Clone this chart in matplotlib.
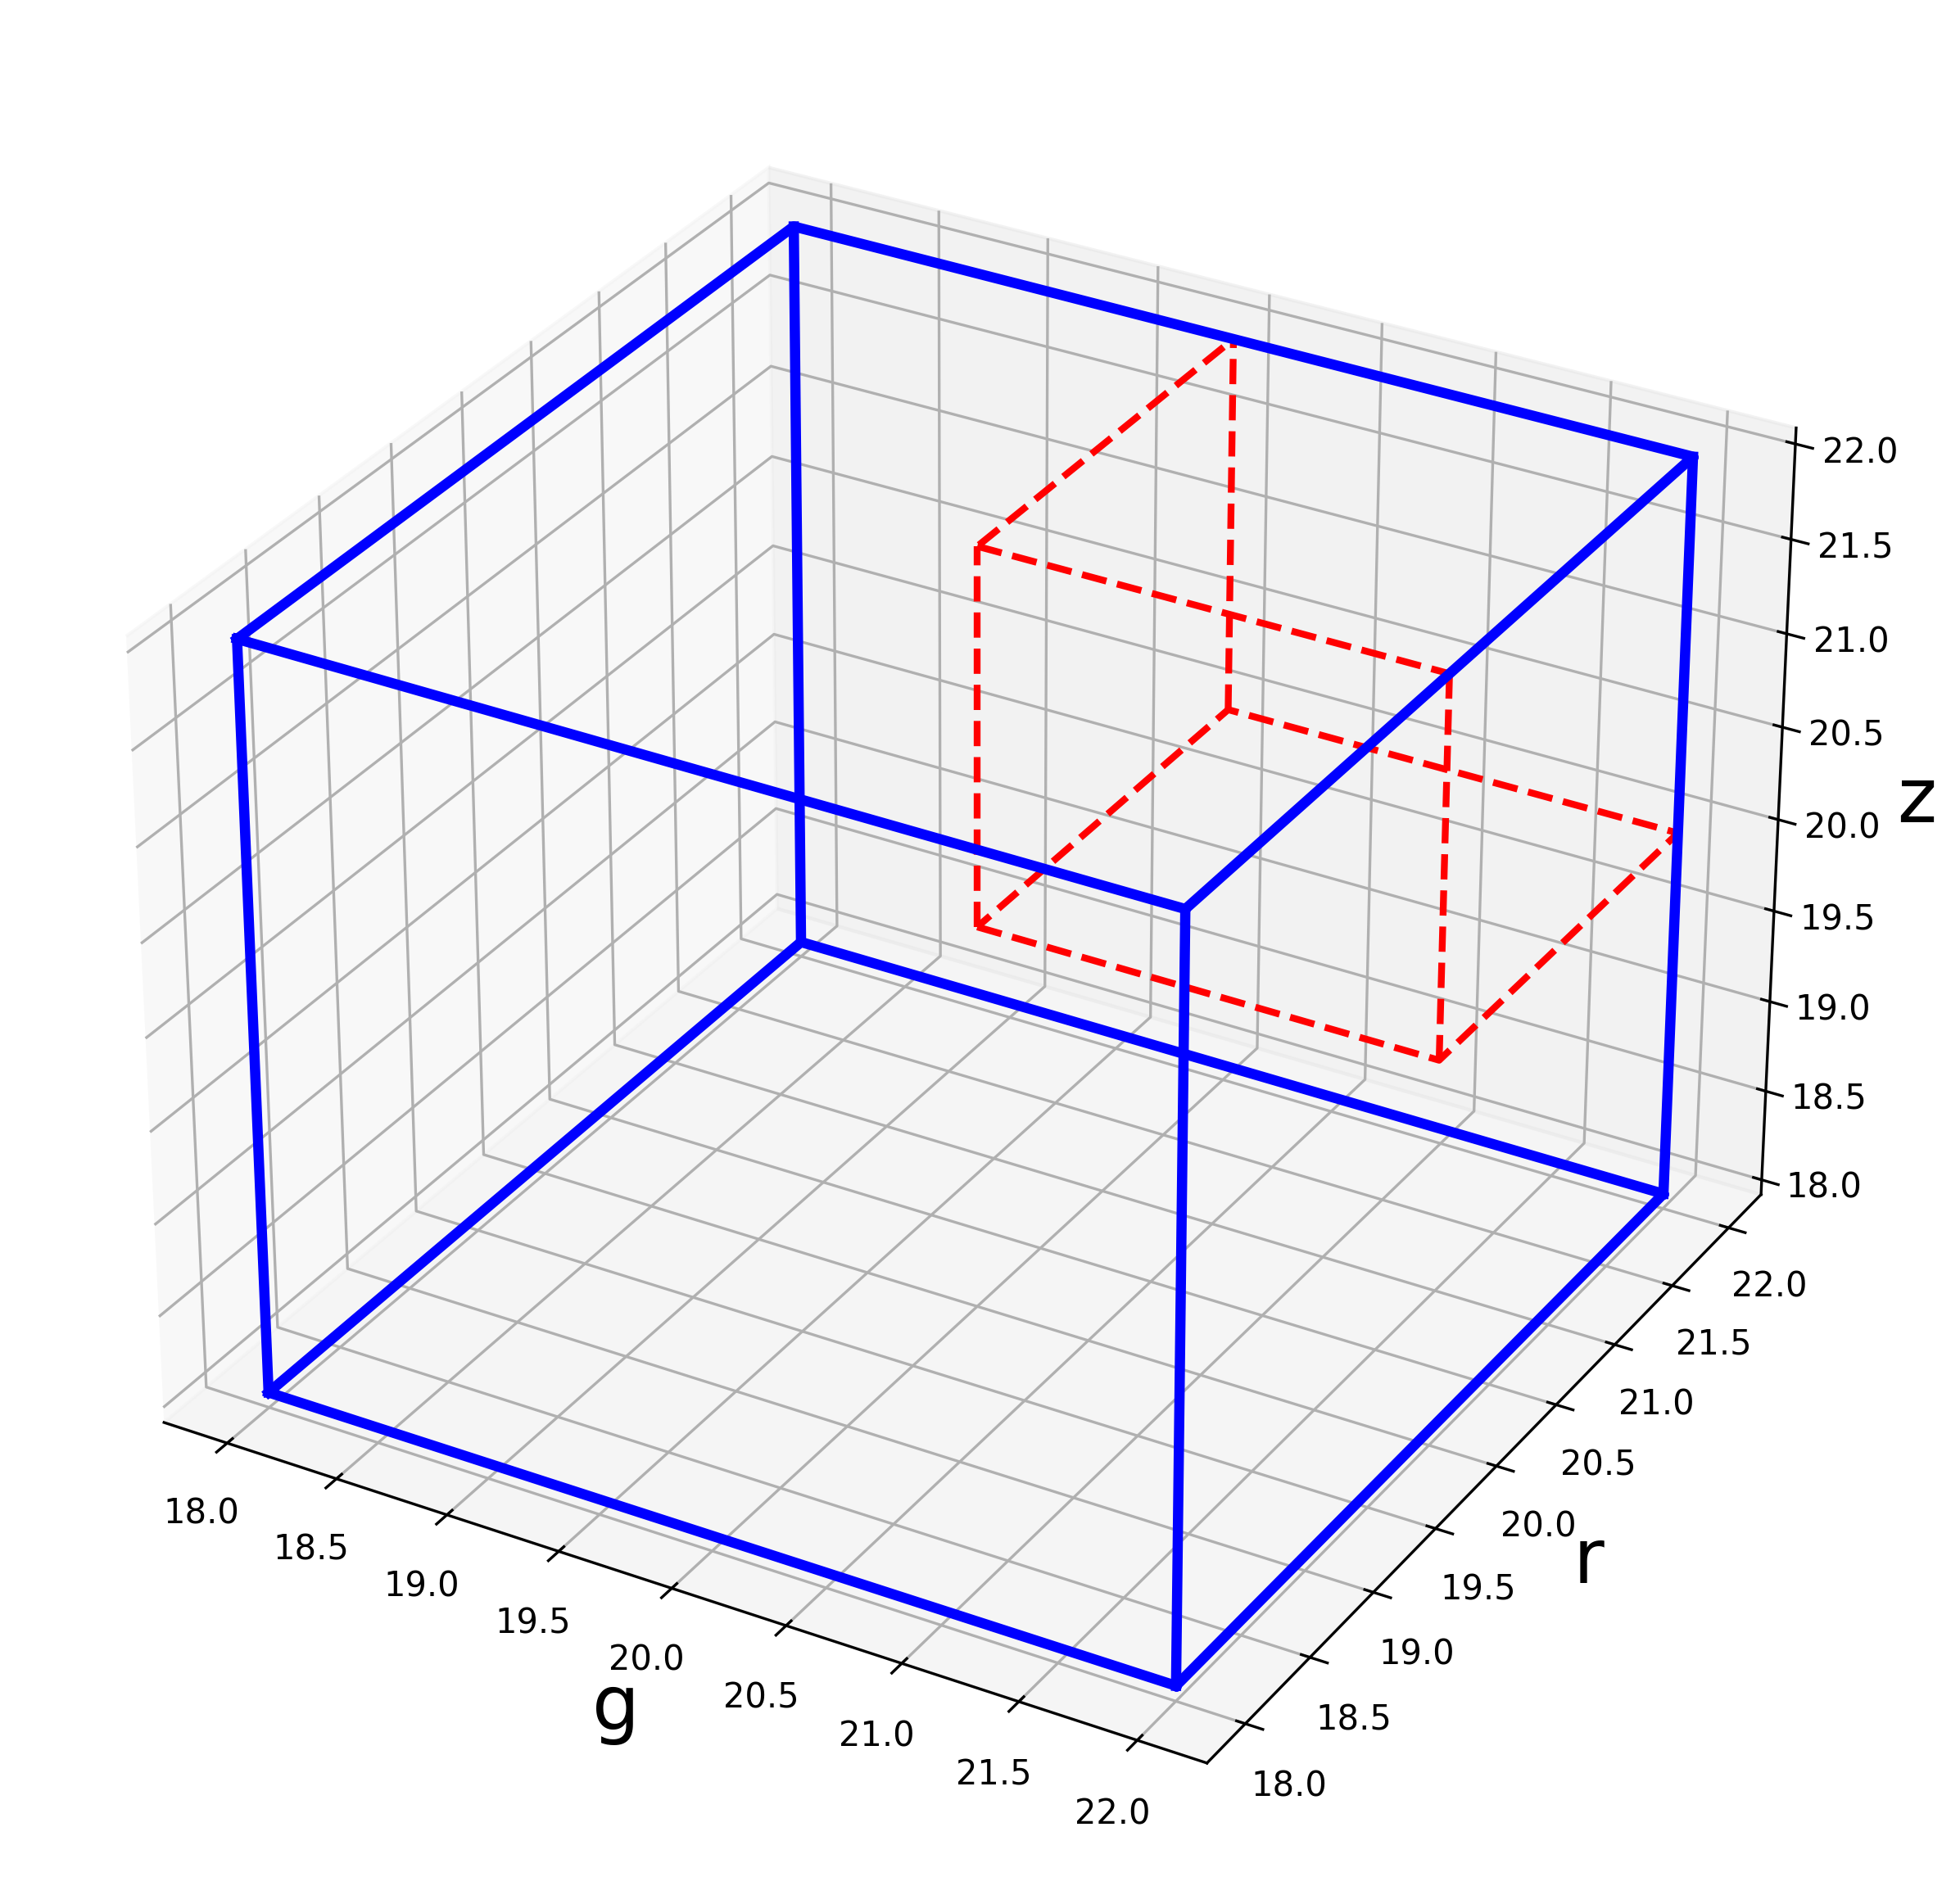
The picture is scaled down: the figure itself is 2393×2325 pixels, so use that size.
import numpy as np
import matplotlib
matplotlib.use('Agg')
import matplotlib.pyplot as plt

# box limits
blue_lo, blue_hi = 18.0, 22.0
red_g = [20.0, 22.0]
red_r = [20.0, 22.0]
red_z = [20.0, 22.0]
ticks = [18.0, 18.5, 19.0, 19.5, 20.0, 20.5, 21.0, 21.5, 22.0]


def draw_box(ax, gs, rs, zs, **kw):
    g0, g1 = gs
    r0, r1 = rs
    z0, z1 = zs
    # bottom and top rings
    for z in (z0, z1):
        ax.plot([g0, g1, g1, g0, g0], [r0, r0, r1, r1, r0], [z, z, z, z, z], **kw)
    # uprights
    for g, r in ((g0, r0), (g1, r0), (g1, r1), (g0, r1)):
        ax.plot([g, g], [r, r], [z0, z1], **kw)


fig = plt.figure(figsize=(2393/300, 2325/300), dpi=300)
ax = fig.add_axes([-0.0017, 0.0125, 0.975, 0.975], projection='3d')
draw_box(ax, red_g, red_r, red_z, color='red', linestyle='--', linewidth=2)
draw_box(ax, [blue_lo, blue_hi], [blue_lo, blue_hi], [blue_lo, blue_hi],
         color='blue', linewidth=3, marker='.', markersize=4)
ax.set_xticks(ticks)
ax.set_yticks(ticks)
ax.set_zticks(ticks)
ax.set_xlabel('g', fontsize=22)
ax.set_ylabel('r', fontsize=22)
ax.set_zlabel('z', fontsize=22)
fig.savefig('out.png', dpi=300)
